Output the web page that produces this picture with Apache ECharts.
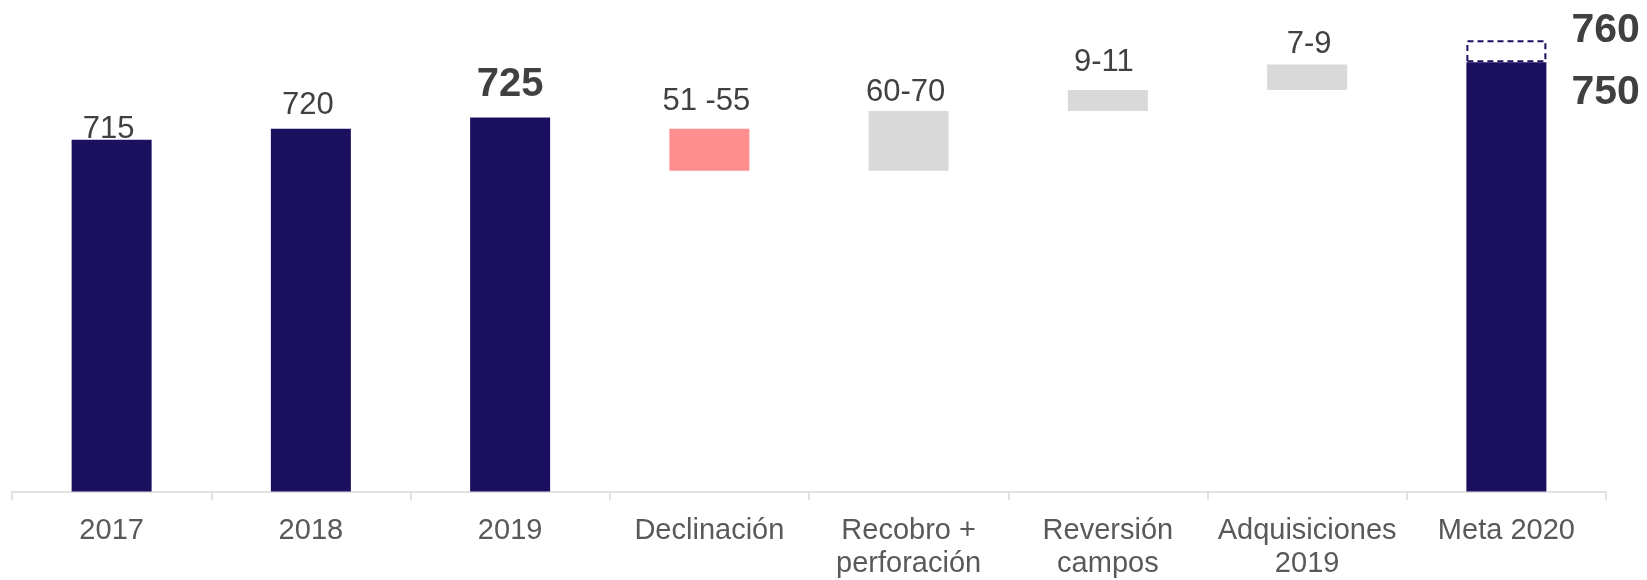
<!DOCTYPE html>
<html><head><meta charset="utf-8">
<script src="https://cdn.jsdelivr.net/npm/echarts@6/dist/echarts.min.js"></script>
<style>html,body{margin:0;padding:0;background:#fff}#c{width:1647px;height:580px}</style>
</head><body><div id="c"></div>
<script>
// ---- data ----
const categories = ['2017', '2018', '2019', 'Declinación', 'Recobro +\nperforación', 'Reversión\ncampos', 'Adquisiciones\n2019', 'Meta 2020'];
const totals     = [715, 720, 725, null, null, null, null, 750];
const stepLow    = [null, null, null, 701, 701, 728, 737.5, null];
const stepHigh   = [null, null, null, 720, 728, 737.5, 749, null];
const metaHigh   = [null, null, null, null, null, null, null, 760];
const totalLabels = ['715', '720', '725', '', '', '', '', '750'];
const stepLabels  = ['', '', '', '51 -55', '60-70', '9-11', '7-9', ''];
const metaHighLabels = ['', '', '', '', '', '', '', '760'];

// ---- styles ----
const FONT = "'Liberation Sans', Arial, Helvetica, sans-serif";
const NAVY = '#1B1060';
const LABEL = '#404040';
const stepColors = [null, null, null, '#FF8F8F', '#D9D9D9', '#D9D9D9', '#D9D9D9', null];
const totalLabelStyle = [
  {position: 'top', distance: -5.5, offset: [-3, 0], fontSize: 31, lineHeight: 31},
  {position: 'top', distance: 7.5, offset: [-3, 0], fontSize: 31, lineHeight: 31},
  {position: 'top', distance: 13, offset: [0, 0], fontSize: 40, lineHeight: 40, fontWeight: 'bold'},
  null, null, null, null,
  {position: [105, 30], align: 'left', verticalAlign: 'middle', fontSize: 41, lineHeight: 41, fontWeight: 'bold'}
];
const stepLabelStyle = [null, null, null,
  {distance: 11.5, offset: [-3, 0]},
  {distance: 3, offset: [-3, 0]},
  {distance: 11.5, offset: [-4, 0]},
  {distance: 5, offset: [2, 0]},
  null];

const totalData = totals.map((v, i) => v == null ? '-' : {
  value: v,
  label: Object.assign({show: true, color: LABEL, fontFamily: FONT,
    formatter: () => totalLabels[i]}, totalLabelStyle[i])
});
const baseData = stepLow.map(v => v == null ? '-' : v);
const stepData = stepLow.map((lo, i) => lo == null ? '-' : {
  value: stepHigh[i] - lo,
  itemStyle: {color: stepColors[i]},
  label: Object.assign({show: true, position: 'top', color: LABEL, fontFamily: FONT,
    fontSize: 31, lineHeight: 31, formatter: () => stepLabels[i]}, stepLabelStyle[i])
});
const metaData = metaHigh.map((v, i) => (v == null || totals[i] == null) ? '-' : {
  value: v - totals[i],
  label: {show: true, position: [105, -9], align: 'left', verticalAlign: 'middle',
    color: LABEL, fontFamily: FONT, fontSize: 41, lineHeight: 41, fontWeight: 'bold',
    formatter: () => metaHighLabels[i]}
});

const chart = echarts.init(document.getElementById('c'), null, {renderer: 'canvas'});
chart.setOption({
  animation: false,
  backgroundColor: '#fff',
  grid: {left: 12, right: 41, top: 18, bottom: 86, containLabel: false},
  xAxis: {
    type: 'category',
    data: categories,
    axisLine: {lineStyle: {color: '#D9D9D9', width: 1.5}},
    axisTick: {show: true, length: 9, lineStyle: {color: '#D9D9D9', width: 1.5}},
    axisLabel: {color: '#595959', fontFamily: FONT, fontSize: 29, lineHeight: 33, margin: 22.5, interval: 0}
  },
  yAxis: {type: 'value', min: 556, max: 770, startValue: 556, show: false, splitLine: {show: false}},
  series: [
    {name: 'total', type: 'bar', stack: 'w', barWidth: 80, data: totalData,
     itemStyle: {color: NAVY}},
    {name: 'base', type: 'bar', stack: 'w', barWidth: 80, data: baseData,
     itemStyle: {color: 'rgba(0,0,0,0)'}, silent: true},
    {name: 'step', type: 'bar', stack: 'w', barWidth: 80, data: stepData},
    {name: 'meta', type: 'bar', stack: 'w', barWidth: 80, data: metaData,
     itemStyle: {color: 'rgba(255,255,255,0)', borderColor: NAVY, borderWidth: 2, borderType: [6, 4]}}
  ]
});
</script></body></html>
